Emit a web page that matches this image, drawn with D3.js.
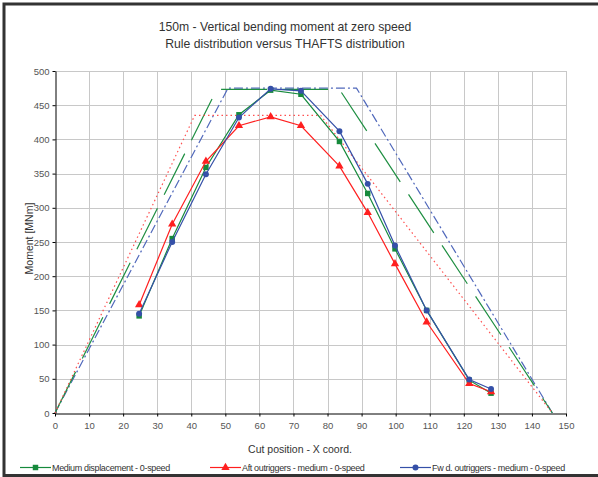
<!DOCTYPE html>
<html>
<head>
<meta charset="utf-8">
<script src="https://cdn.jsdelivr.net/npm/d3@7"></script>
<style>
  body { margin: 0; background: #fff; }
  svg { display: block; font-family: "Liberation Sans", Arial, sans-serif; }
</style>
</head>
<body>
<svg id="chart"></svg>
<script>
// cut positions (x coord) of the computed points
const cutX = [24.7, 34.4, 44.3, 54, 63.3, 72.2, 83.5, 91.8, 99.8, 109.1, 121.6, 128];
const mediumDisp = [142, 255, 359, 436, 472, 466, 397, 321, 240, 150, 48, 29];
const aftOutriggers = [158, 276, 368, 420, 433, 420, 361, 293, 218, 133, 43, 31];
const fwdOutriggers = [145, 250, 349, 432, 474, 471, 412, 335, 245, 150, 49, 35];

// rule distributions: [x, moment]
const ruleMedium = [[0, 0], [47.5, 473], [83.5, 473], [146, 0]];
const ruleAft = [[0, 0], [41, 435], [78, 435], [146, 0]];
const ruleFwd = [[0, 0], [50.8, 475], [88.5, 475], [146, 0]];

const xTicks = d3.range(0, 151, 10);
const yTicks = d3.range(0, 501, 50);

const titleLines = ['150m - Vertical bending moment at zero speed', 'Rule distribution versus THAFTS distribution'];
const legendNames = ['Medium displacement - 0-speed', 'Aft outriggers - medium - 0-speed', 'Fw d. outriggers - medium - 0-speed'];

const width = 598, height = 477;
const margin = { top: 71, right: 32, bottom: 64, left: 55 };

const svg = d3.select('#chart')
  .attr('width', width)
  .attr('height', height);

// outer frame
svg.append('rect')
  .attr('x', 4).attr('y', 4)
  .attr('width', width + 10).attr('height', 471.5)
  .attr('fill', 'none')
  .attr('stroke', '#333')
  .attr('stroke-width', 3);

svg.append('g').selectAll('text')
  .data(titleLines)
  .enter().append('text')
  .attr('x', 285)
  .attr('y', (d, i) => 31 + i * 17)
  .attr('text-anchor', 'middle')
  .attr('font-size', 12.2)
  .attr('fill', '#333')
  .text(d => d);

const x = d3.scaleLinear().domain([0, 150]).range([margin.left, width - margin.right]);
const y = d3.scaleLinear().domain([0, 500]).range([height - margin.bottom, margin.top]);

// grid
const grid = svg.append('g').attr('stroke', '#c8c8c8').attr('stroke-width', 1);
grid.selectAll('.gx')
  .data(xTicks.slice(1))
  .enter().append('line')
  .attr('x1', d => Math.round(x(d)) + 0.5).attr('x2', d => Math.round(x(d)) + 0.5)
  .attr('y1', y(500)).attr('y2', y(0));
grid.selectAll('.gy')
  .data(yTicks.slice(1))
  .enter().append('line')
  .attr('x1', x(0)).attr('x2', x(150))
  .attr('y1', d => Math.round(y(d)) + 0.5).attr('y2', d => Math.round(y(d)) + 0.5);

const xAxis = svg.append('g')
  .attr('transform', `translate(0,${Math.round(y(0)) + 0.5})`)
  .call(d3.axisBottom(x).tickValues(xTicks).tickSize(3).tickSizeOuter(0));
const yAxis = svg.append('g')
  .attr('transform', `translate(${Math.round(x(0)) + 0.5},0)`)
  .call(d3.axisLeft(y).tickValues(yTicks).tickSize(3).tickSizeOuter(0));

[xAxis, yAxis].forEach(ax => {
  ax.select('.domain').attr('stroke', '#000');
  ax.selectAll('.tick line').attr('stroke', '#000');
  ax.selectAll('.tick text').attr('fill', '#555').attr('font-size', 9.5)
    .attr('font-family', '"Liberation Sans", Arial, sans-serif');
});
xAxis.selectAll('.tick text').attr('dy', '0.95em');

svg.append('text')
  .attr('x', 300).attr('y', 453)
  .attr('text-anchor', 'middle')
  .attr('font-size', 10.5)
  .attr('fill', '#333')
  .text('Cut position - X coord.');

svg.append('text')
  .attr('transform', `translate(33,${y(255)}) rotate(-90)`)
  .attr('text-anchor', 'middle')
  .attr('font-size', 10.5)
  .attr('fill', '#333')
  .text('Moment [MNm]');

const line = d3.line().x(d => x(d[0])).y(d => y(d[1]));

// rule distributions
const rules = [
  { data: ruleFwd, color: '#5068bb', dash: '9,3,2,3', w: 1.2 },
  { data: ruleMedium, color: '#1f8f42', dash: '46,15', w: 1.2 },
  { data: ruleAft, color: '#ff5050', dash: '1.5,3', w: 1.2 }
];
svg.append('g').selectAll('path')
  .data(rules)
  .enter().append('path')
  .attr('d', d => line(d.data))
  .attr('fill', 'none')
  .attr('stroke', d => d.color)
  .attr('stroke-width', d => d.w)
  .attr('stroke-dasharray', d => d.dash);

// computed series
const series = [
  { name: legendNames[0], values: mediumDisp, color: '#168a3c', symbol: d3.symbolSquare, size: 30 },
  { name: legendNames[1], values: aftOutriggers, color: '#ff1f1f', symbol: d3.symbolTriangle, size: 30 },
  { name: legendNames[2], values: fwdOutriggers, color: '#3550a8', symbol: d3.symbolCircle, size: 28 }
];

const sg = svg.append('g').selectAll('g')
  .data(series)
  .enter().append('g');

sg.append('path')
  .attr('d', d => line(cutX.map((cx, i) => [cx, d.values[i]])))
  .attr('fill', 'none')
  .attr('stroke', d => d.color)
  .attr('stroke-width', 1.2);

sg.selectAll('path.m')
  .data(d => cutX.map((cx, i) => ({ cx, v: d.values[i], s: d })))
  .enter().append('path')
  .attr('class', 'm')
  .attr('transform', d => `translate(${x(d.cx)},${y(d.v)})`)
  .attr('d', d => d3.symbol().type(d.s.symbol).size(d.s.size)())
  .attr('fill', d => d.s.color);

// legend
const legendX = [20, 210, 400];
const lg = svg.append('g').selectAll('g')
  .data(series)
  .enter().append('g')
  .attr('transform', (d, i) => `translate(${legendX[i]},467.5)`);
lg.append('line')
  .attr('x1', 0).attr('x2', 31)
  .attr('stroke', d => d.color).attr('stroke-width', 1.2);
lg.append('path')
  .attr('transform', 'translate(15.5,0)')
  .attr('d', d => d3.symbol().type(d.symbol).size(d.size)())
  .attr('fill', d => d.color);
lg.append('text')
  .attr('x', 32).attr('y', 3.5)
  .attr('font-size', 9)
  .attr('letter-spacing', -0.35)
  .attr('fill', '#333')
  .text(d => d.name);
</script>
</body>
</html>
